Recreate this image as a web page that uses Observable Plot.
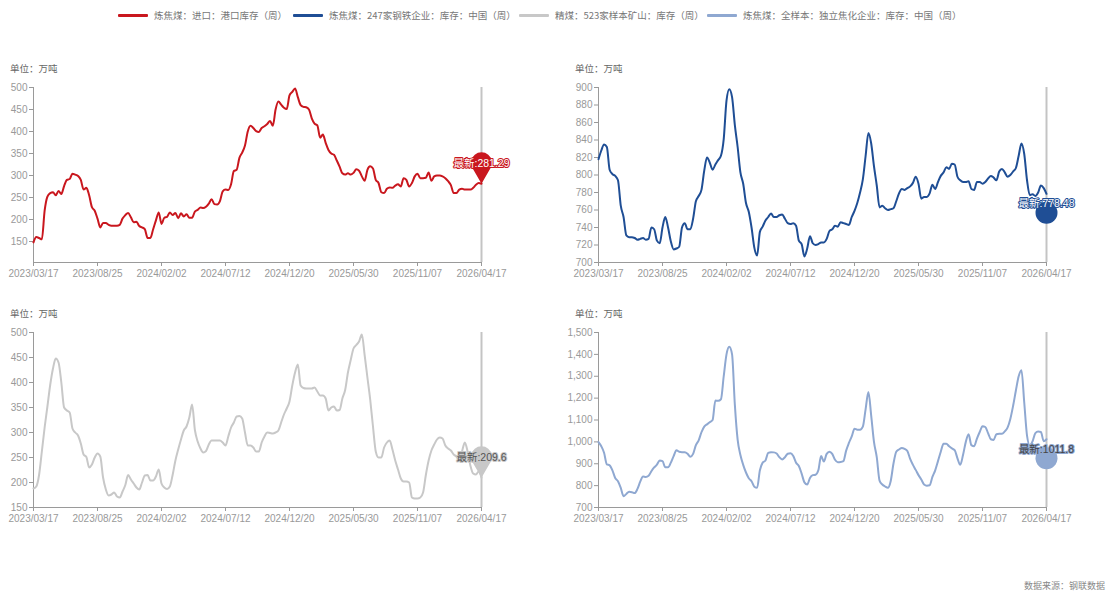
<!DOCTYPE html>
<html>
<head>
<meta charset="utf-8">
<script src="https://cdn.jsdelivr.net/npm/d3@7"></script>
<script src="https://cdn.jsdelivr.net/npm/@observablehq/plot@0.6"></script>
<style>
  html, body { margin: 0; padding: 0; background: #fff; }
  #root { position: relative; width: 1112px; height: 593px; overflow: hidden; font-family: "Noto Sans CJK SC", "Liberation Sans", sans-serif; }
  .leg { position: absolute; top: 9px; height: 12px; display: flex; align-items: center; font-size: 9.5px; color: #777; white-space: nowrap; }
  .sw { display: inline-block; width: 30px; height: 3px; margin-right: 6px; border-radius: 1px; }
  .unit { position: absolute; font-size: 9.5px; color: #666; white-space: nowrap; line-height: 12px; }
  .src { position: absolute; right: 7px; top: 580px; font-size: 9px; line-height: 11px; color: #888; white-space: nowrap; }
  .panel { position: absolute; }
</style>
</head>
<body>
<div id="root"></div>
<script>
// ---------------- data ----------------
const seriesNames = [
  "炼焦煤：进口：港口库存（周）",
  "炼焦煤：247家钢铁企业：库存：中国（周）",
  "精煤：523家样本矿山：库存（周）",
  "炼焦煤：全样本：独立焦化企业：库存：中国（周）"
];
const seriesColors = ["#c9171e", "#1f4e95", "#c8c8c8", "#8fa8d1"];
const unitLabel = "单位：万吨";
const sourceLabel = "数据来源：钢联数据";
const latestPrefix = "最新:";
const firstWeek = "2023/03/17";
const xTickLabels = ["2023/03/17","2023/08/25","2024/02/02","2024/07/12","2024/12/20","2025/05/30","2025/11/07","2026/04/17"];

// 炼焦煤：进口：港口库存（周）
const portStock = [148,160,158,155,220,252,260,262,255,265,
258,276,290,292,304,302,299,290,268,272,
255,228,220,202,182,192,192,188,186,186,
186,188,202,210,215,205,194,195,185,182,
178,158,158,178,198,216,190,204,206,216,
210,215,203,214,207,212,204,204,218,222,
227,226,229,236,246,235,234,242,264,268,
267,280,310,313,340,352,368,400,413,408,
401,399,408,412,417,424,413,450,468,461,
454,451,482,490,498,478,460,456,455,450,
430,418,414,386,393,374,358,350,347,334,
320,305,302,305,302,306,314,311,298,288,
313,321,316,290,283,262,260,270,273,272,
277,280,275,294,290,275,283,298,304,294,
294,295,307,288,298,300,300,298,294,287,
278,260,260,268,270,268,268,268,272,279,
283,281.29];

// 炼焦煤：247家钢铁企业：库存
const steelStock = [818,828,835,832,806,801,799,794,765,752,
731,729,729,728,726,727,728,726,727,740,
738,725,722,740,752,740,724,715,716,718,
740,745,738,738,750,770,776,783,805,820,
814,806,812,817,822,841,885,898,889,857,
832,803,790,768,758,740,717,708,735,741,
748,752,756,752,752,754,755,750,745,744,
745,742,725,721,707,716,730,722,720,721,
723,723,727,736,738,742,741,746,745,744,
743,752,759,768,780,795,822,848,836,810,
788,763,765,762,760,761,762,770,779,784,
783,785,787,791,798,790,773,775,775,779,
789,784,792,799,803,809,807,813,812,798,
794,792,792,793,784,783,792,792,790,792,
796,799,797,794,804,807,803,798,800,804,
808,822,836,824,794,777,778,776,780,788,
785,778.48];

// 精煤：523家样本矿山：库存
const mineStock = [188,192,215,262,310,352,395,428,448,440,
400,350,344,340,308,300,294,278,256,251,
230,236,250,258,252,210,186,174,176,180,
172,170,182,195,215,206,198,190,186,200,
214,215,204,204,212,226,198,190,187,192,
215,244,266,286,304,312,330,356,305,282,
268,260,263,276,284,284,284,284,280,274,
292,310,320,332,333,328,300,274,274,270,
262,262,280,292,300,299,298,300,304,320,
336,348,362,394,420,436,394,389,388,388,
388,390,382,374,374,368,344,350,352,344,
345,368,385,420,445,468,475,482,496,455,
410,366,312,262,250,250,270,280,284,266,
244,226,208,202,202,200,170,168,168,170,
180,215,244,264,276,286,290,288,274,268,
264,256,252,244,262,280,262,234,218,216,
222,209.6];

// 炼焦煤：全样本：独立焦化企业：库存
const cokingStock = [999,980,950,897,893,870,835,820,790,752,
762,772,770,766,785,818,842,840,845,866,
883,896,915,912,884,884,905,935,962,955,
953,953,946,932,945,985,1007,1044,1070,1080,
1090,1100,1189,1188,1195,1300,1400,1435,1400,1170,
1010,940,895,860,834,820,795,790,870,905,
915,950,953,952,947,930,920,930,946,948,
935,905,890,855,815,805,835,848,850,870,
935,910,945,955,945,918,907,908,912,960,
995,1025,1060,1056,1056,1070,1150,1228,1120,1000,
930,823,805,796,790,820,900,955,965,972,
968,958,922,895,872,848,828,805,800,802,
840,870,912,955,991,991,980,970,962,925,
895,940,1000,1035,985,980,1015,1045,1072,1068,
1040,1012,1009,1035,1037,1037,1048,1065,1105,1165,
1235,1300,1328,1180,1029,984,1003,1040,1047,1045,
1003,1011.8];

const yTicks1 = [150,200,250,300,350,400,450,500];
const yTicks2 = [700,720,740,760,780,800,820,840,860,880,900];
const yTicks3 = [150,200,250,300,350,400,450,500];
const yTicks4 = [700,800,900,1000,1100,1200,1300,1400,1500];

// ---------------- build ----------------
const parse = d3.utcParse("%Y/%m/%d");
const fmtDate = d3.utcFormat("%Y/%m/%d");
const start = parse(firstWeek);
const xTicks = xTickLabels.map(parse);
const toRows = vals => vals.map((v, i) => ({date: d3.utcDay.offset(start, 7 * i), value: v}));

const pin = {
  draw(ctx, size) {
    const R = Math.sqrt(size / Math.PI);
    const d = 2 * R, a = Math.acos(R / d);
    ctx.moveTo(0, 0);
    ctx.arc(0, -d, R, Math.PI / 2 + a, Math.PI / 2 - a + 2 * Math.PI);
    ctx.closePath();
  }
};

const root = document.getElementById("root");

// legend
const legLeft = [118, 293, 519, 707];
seriesNames.forEach((name, i) => {
  const el = document.createElement("div");
  el.className = "leg";
  el.style.left = legLeft[i] + "px";
  el.innerHTML = `<span class="sw" style="background:${seriesColors[i]}"></span><span>${name}</span>`;
  root.appendChild(el);
});

function addText(cls, text, left, top) {
  const el = document.createElement("div");
  el.className = cls;
  el.textContent = text;
  if (left != null) el.style.left = left + "px";
  el.style.top = top + "px";
  root.appendChild(el);
}

addText("unit", unitLabel, 10, 62);
addText("unit", unitLabel, 575, 62);
addText("unit", unitLabel, 10, 307);
addText("unit", unitLabel, 575, 307);
addText("src", sourceLabel, null, 580);

function panel(cfg) {
  const rows = toRows(cfg.values);
  const last = rows[rows.length - 1];
  const end = xTicks[xTicks.length - 1];
  const marks = [
    Plot.frame({anchor: "left", stroke: "#9a9a9a"}),
    Plot.frame({anchor: "bottom", stroke: "#9a9a9a"}),
    Plot.axisY({ticks: cfg.yTicks, tickSize: 4, tickPadding: 2, tickFormat: cfg.yFormat, label: null, color: "#999", fontSize: 10}),
    Plot.axisX({ticks: xTicks, tickSize: 4, tickPadding: 3, tickFormat: fmtDate, label: null, color: "#999", fontSize: 10}),
    Plot.ruleX([end], {stroke: "#c4c4c4", strokeWidth: 2}),
    Plot.lineY(rows, {x: "date", y: "value", stroke: cfg.color, strokeWidth: 2, curve: "monotone-x"})
  ];
  if (cfg.marker === "pin") {
    marks.push(Plot.dot([last], {x: "date", y: "value", symbol: pin, r: 10.5, fill: cfg.color, stroke: "none"}));
    marks.push(Plot.text([last], {x: "date", y: "value", dy: -20, text: d => latestPrefix + d.value,
      fill: cfg.labelFill, stroke: cfg.labelStroke, strokeWidth: 2, fontSize: 10.5}));
  } else {
    marks.push(Plot.dot([last], {x: "date", y: "value", dy: 19, r: 11, fill: cfg.color, stroke: "none"}));
    marks.push(Plot.text([last], {x: "date", y: "value", dy: 10, text: d => latestPrefix + d.value,
      fill: cfg.labelFill, stroke: cfg.labelStroke, strokeWidth: 2, fontSize: 10.5}));
  }
  const chart = Plot.plot({
    width: cfg.width, height: cfg.height,
    marginLeft: cfg.ml, marginRight: cfg.mr, marginTop: cfg.mt, marginBottom: cfg.mb,
    x: {type: "utc", domain: [start, end]},
    y: {domain: [cfg.yTicks[0], cfg.yTicks[cfg.yTicks.length - 1]], insetBottom: cfg.insetBottom || 0},
    style: {fontFamily: "'Liberation Sans', 'Noto Sans CJK SC', sans-serif", fontSize: "10px", background: "transparent", overflow: "visible"},
    marks
  });
  chart.classList.add("panel");
  chart.style.left = cfg.left + "px";
  chart.style.top = cfg.top + "px";
  root.appendChild(chart);
}

panel({values: portStock, color: seriesColors[0], yTicks: yTicks1, yFormat: d3.format("d"),
  left: 0, top: 80, width: 540, height: 210, ml: 33, mr: 59, mt: 7, mb: 28, insetBottom: 21,
  marker: "pin", labelFill: "#fff", labelStroke: seriesColors[0]});
panel({values: steelStock, color: seriesColors[1], yTicks: yTicks2, yFormat: d3.format("d"),
  left: 556, top: 80, width: 540, height: 210, ml: 42, mr: 50, mt: 7, mb: 28,
  marker: "circle", labelFill: "#fff", labelStroke: seriesColors[1]});
panel({values: mineStock, color: seriesColors[2], yTicks: yTicks3, yFormat: d3.format("d"),
  left: 0, top: 325, width: 540, height: 210, ml: 33, mr: 59, mt: 7, mb: 28,
  marker: "pin", labelFill: "#555", labelStroke: seriesColors[2]});
panel({values: cokingStock, color: seriesColors[3], yTicks: yTicks4, yFormat: d3.format(","),
  left: 556, top: 325, width: 540, height: 210, ml: 42, mr: 50, mt: 7, mb: 28,
  marker: "circle", labelFill: "#444", labelStroke: seriesColors[3]});
</script>
</body>
</html>
